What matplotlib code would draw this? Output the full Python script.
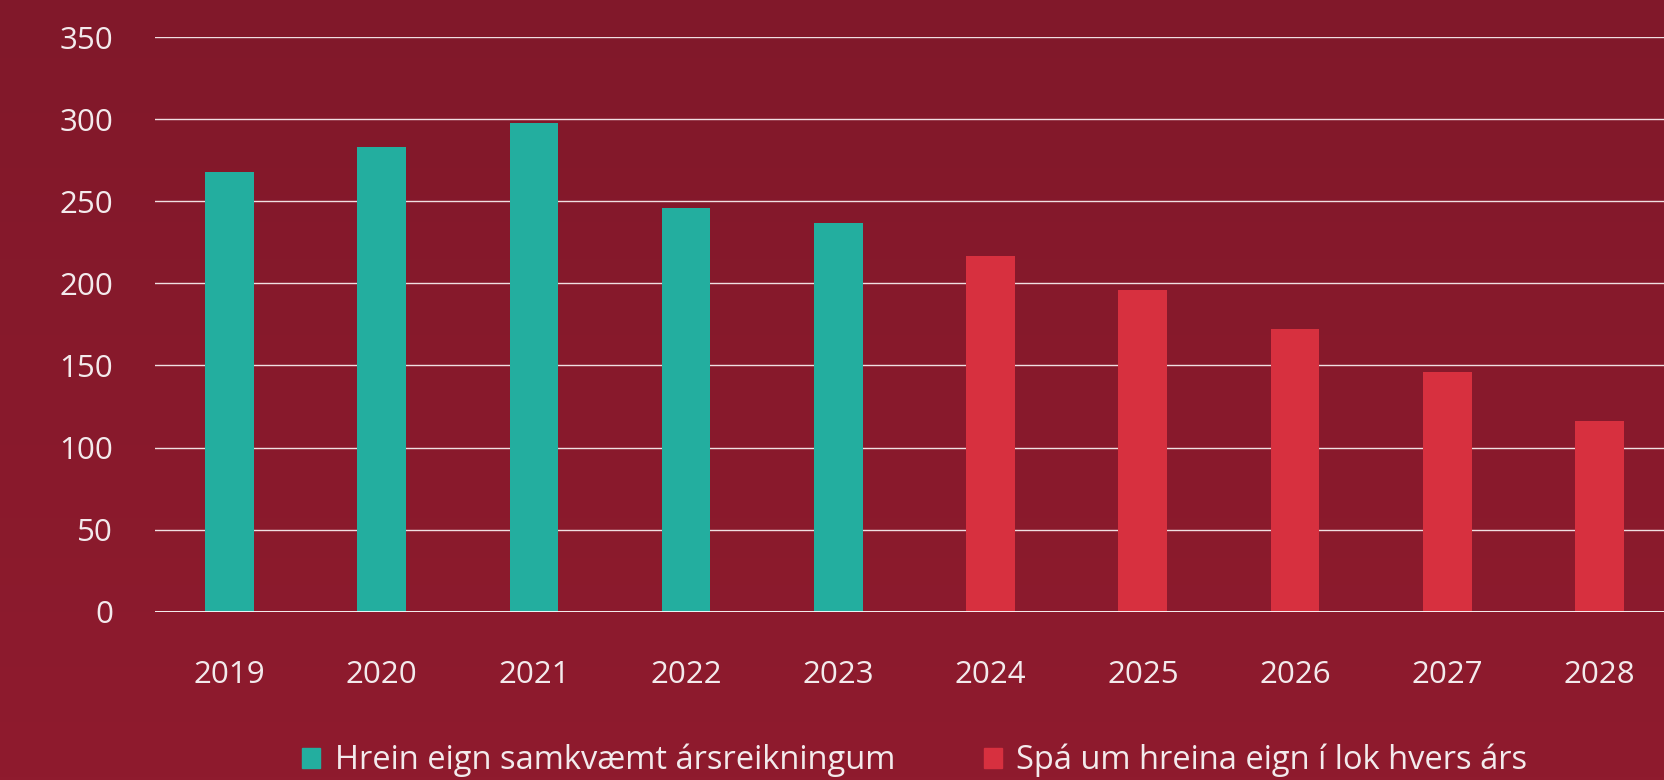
import matplotlib.pyplot as plt
import numpy as np
from matplotlib.patches import Patch

years = ['2019', '2020', '2021', '2022', '2023', '2024', '2025', '2026', '2027', '2028']
values = [268, 283, 298, 246, 237, 217, 196, 172, 146, 116]
actual = [True, True, True, True, True, False, False, False, False, False]
labels = ['Hrein eign samkvæmt ársreikningum', 'Spá um hreina eign í lok hvers árs']

teal = '#23ae9f'
red = '#d7303f'
txt = '#f3eaec'

plt.rcParams['font.family'] = ['Open Sans', 'DejaVu Sans']

fig = plt.figure(figsize=(16.65, 7.8), dpi=100)

# background gradient, a bit darker at the top
bg = fig.add_axes([0, 0, 1, 1], zorder=-10)
top = np.array([0x81, 0x18, 0x2a]) / 255
bot = np.array([0x8f, 0x1b, 0x2e]) / 255
t = np.linspace(0, 1, 256)[:, None]
grad = top[None, None, :] * (1 - t[..., None]) + bot[None, None, :] * t[..., None]
bg.imshow(np.repeat(grad, 2, axis=1), aspect='auto', extent=[0, 1, 0, 1])
bg.axis('off')

ax = fig.add_axes([0.093, 0.2158, 0.907, 0.7365])
ax.set_facecolor('none')

x = np.arange(len(years))
colors = [teal if a else red for a in actual]
ax.bar(x, values, width=0.32, color=colors, zorder=3)

ax.set_ylim(0, 350)
ax.set_xlim(-0.49, 9.43)
ax.set_yticks(range(0, 351, 50))
ax.set_xticks(x)
ax.set_xticklabels(years)
ax.tick_params(axis='both', length=0, labelsize=22.5, colors=txt)
ax.tick_params(axis='y', pad=30)
ax.tick_params(axis='x', pad=35)
ax.grid(axis='y', color='#f0dfe2', linewidth=1, zorder=1)
ax.axhline(0, color='white', linewidth=2, zorder=4)
for s in ax.spines.values():
    s.set_visible(False)

handles = [Patch(color=teal), Patch(color=red)]
leg = fig.legend(handles, labels, loc='center', bbox_to_anchor=(0.5495, 0.025),
                 ncol=2, frameon=False, fontsize=23.5, handlelength=0.55, handleheight=0.55,
                 handletextpad=0.45, columnspacing=2.7, labelcolor=txt)

fig.savefig('out.png', dpi=100)
